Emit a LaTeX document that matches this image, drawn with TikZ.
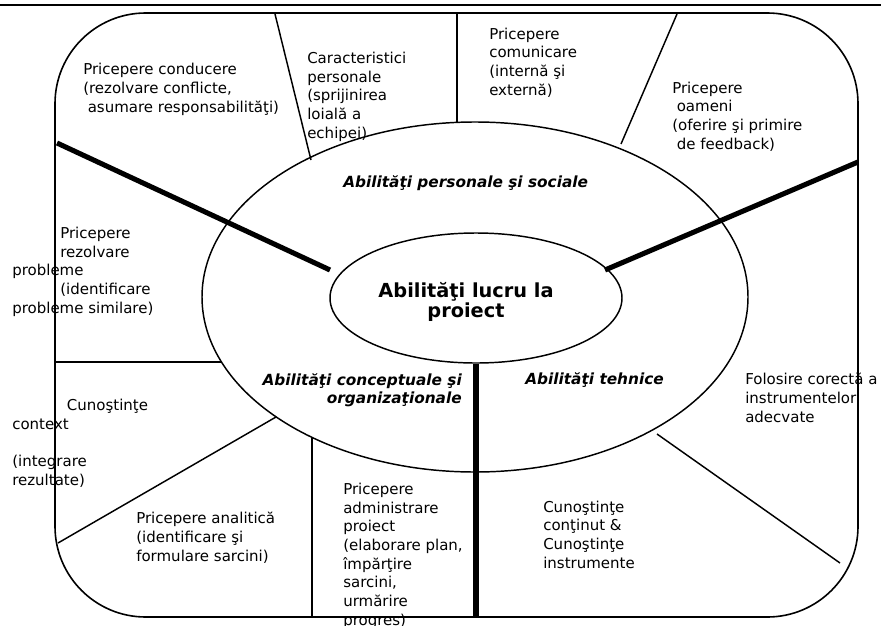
\documentclass[tikz,border=0pt]{standalone}
\usepackage{fontspec}
\setmainfont{DejaVu Sans}
\usetikzlibrary{shapes.geometric}

\begin{document}
\begin{tikzpicture}[x=0.75pt, y=-0.75pt,
  border/.style={line width=1.2pt},
  divider/.style={line width=1.1pt},
  spoke/.style={line width=3.8pt},
  lbl/.style={anchor=base west, inner sep=0pt, align=left, font=\fontsize{11.25pt}{14pt}\selectfont},
  cat/.style={anchor=base west, inner sep=0pt, font=\fontsize{11.5pt}{13.5pt}\selectfont\bfseries\itshape},
  core/.style={draw, ellipse, line width=1.1pt, inner sep=0pt, minimum width=219pt, minimum height=97.5pt},
  title/.style={inner sep=0pt, align=center, font=\fontsize{14.5pt}{15pt}\selectfont\bfseries}
]
  \useasboundingbox (0,0) rectangle (881,625);
  \draw[line width=1.6pt] (0,5) -- (881,5);
  \draw[border, rounded corners=68pt] (55,13) rectangle (858,617);

  % ellipses
  \draw[divider] (475,297) ellipse [x radius=204.75pt, y radius=131.25pt];
  \node[core] (core) at (476,298) {};
  \node[title] (titlu) at (466,302) {Abilităţi lucru la\\proiect};

  % spokes
  \coordinate (lsA) at (57,143);
  \coordinate (lsB) at (330,270);
  \coordinate (rsA) at (858,162);
  \coordinate (rsB) at (605,270);
  \coordinate (bsA) at (476,617);
  \draw[spoke] (lsA) -- (lsB);
  \draw[spoke] (rsA) -- (rsB);
  \draw[spoke] (core.south) -- (bsA);

  % dividers
  \coordinate (d1a) at (275,14);  \coordinate (d1b) at (311,160);
  \coordinate (d2a) at (457,13);  \coordinate (d2b) at (457,123);
  \coordinate (d3a) at (677,14);  \coordinate (d3b) at (621,144);
  \coordinate (d4a) at (56,362);  \coordinate (d4b) at (221,362);
  \coordinate (d5a) at (58,543);  \coordinate (d5b) at (276,417);
  \coordinate (d6a) at (312,437); \coordinate (d6b) at (312,617);
  \coordinate (d7a) at (657,434); \coordinate (d7b) at (840,563);
  \draw[divider] (d1a) -- (d1b);
  \draw[divider] (d2a) -- (d2b);
  \draw[divider] (d3a) -- (d3b);
  \draw[divider] (d4a) -- (d4b);
  \draw[divider] (d5a) -- (d5b);
  \draw[divider] (d6a) -- (d6b);
  \draw[divider] (d7a) -- (d7b);

  % categories (base = last line)
  \node[cat] (social) at (343,187) {Abilităţi personale şi sociale};
  \node[cat, anchor=base east, align=right] (concept) at (462,403) {Abilităţi conceptuale şi\\organizaţionale};
  \node[cat] (tehnic) at (525,384) {Abilităţi tehnice};

  % skills (base = last line)
  \node[lbl] (conducere) at (83,112) {Pricepere conducere\\(rezolvare conflicte,\\\hspace*{0.3em}asumare responsabilităţi)};
  \node[lbl] (caract) at (307,138) {Caracteristici\\personale\\(sprijinirea\\loială a\\echipei)};
  \node[lbl] (comunic) at (489,95) {Pricepere\\comunicare\\(internă şi\\externă)};
  \node[lbl] (oameni) at (672,149) {Pricepere\\\hspace*{0.3em}oameni\\(oferire şi primire\\\hspace*{0.3em}de feedback)};
  \node[lbl] (rezolv) at (12,313) {\hspace*{36pt}Pricepere\\\hspace*{36pt}rezolvare\\probleme\\\hspace*{36pt}(identificare\\probleme similare)};
  \node[lbl] (context) at (12,485) {\hspace*{41pt}Cunoştinţe\\context\\\mbox{}\\(integrare\\rezultate)};
  \node[lbl] (analitic) at (136,561) {Pricepere analitică\\(identificare şi\\formulare sarcini)};
  \node[lbl] (admin) at (343,625) {Pricepere\\administrare\\proiect\\(elaborare plan,\\împărţire\\sarcini,\\urmărire\\progres)};
  \node[lbl] (continut) at (543,568) {Cunoştinţe\\conţinut \&\\Cunoştinţe\\instrumente};
  \node[lbl] (folosire) at (745,422) {Folosire corectă a\\instrumentelor\\adecvate};
\end{tikzpicture}
\end{document}
